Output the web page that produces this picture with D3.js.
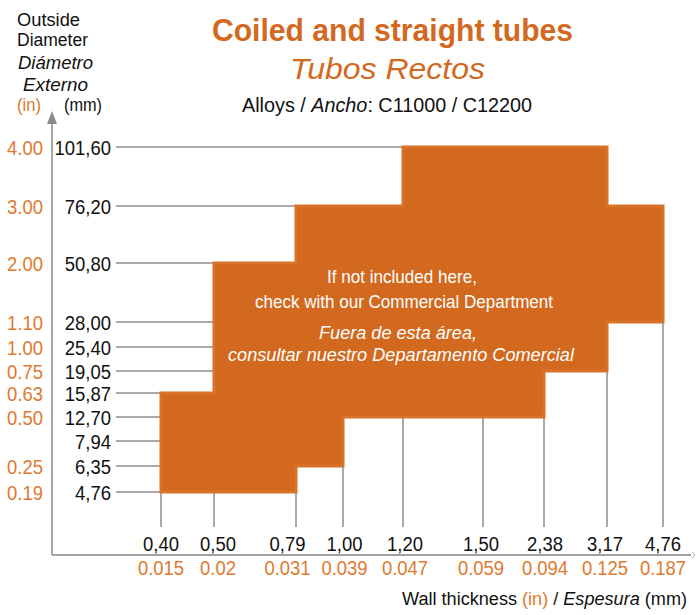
<!DOCTYPE html>
<html>
<head>
<meta charset="utf-8">
<script src="https://cdn.jsdelivr.net/npm/d3@7"></script>
<style>
  html, body { margin: 0; padding: 0; background: #fff; }
  svg { display: block; font-family: "Liberation Sans", Arial, sans-serif; }
</style>
</head>
<body>
<div id="chart"></div>
<script>
// outside diameter categories (bottom to top)
const yLabelsMm = ['4,76', '6,35', '7,94', '12,70', '15,87', '19,05', '25,40', '28,00', '50,80', '76,20', '101,60'];
const yLabelsIn = ['0.19', '0.25', '', '0.50', '0.63', '0.75', '1.00', '1.10', '2.00', '3.00', '4.00'];

// wall thickness categories
const xLabelsMm = ['0,40', '0,50', '0,79', '1,00', '1,20', '1,50', '2,38', '3,17', '4,76'];
const xLabelsIn = ['0.015', '0.02', '0.031', '0.039', '0.047', '0.059', '0.094', '0.125', '0.187'];

// available range between consecutive wall thickness ticks
const colTop    = ['15,87', '50,80', '76,20', '76,20', '101,60', '101,60', '101,60', '76,20'];
const colBottom = ['4,76',  '4,76',  '6,35',  '12,70', '12,70',  '12,70',  '19,05',  '28,00'];

const width = 696;
const height = 615;
const orange = '#d2691e';
const orangeText = '#e07a30';

// uneven spacing in the original, so ordinal scales with fixed pixel stops
const y = d3.scaleOrdinal()
  .domain(yLabelsMm)
  .range([492, 466, 441, 417, 393, 371, 347, 322, 263, 206, 147]);

const x = d3.scaleOrdinal()
  .domain(xLabelsMm)
  .range([161, 214, 296, 343, 403, 483, 544, 607, 663]);

// the tick labels are not quite centred on their ticks
const xText = d3.scaleOrdinal()
  .domain(xLabelsMm)
  .range([161, 218, 287.5, 344.5, 405, 481, 545, 605, 663]);

const svg = d3.select('#chart').append('svg')
  .attr('width', width)
  .attr('height', height)
  .attr('viewBox', [0, 0, width, height]);

const columns = colTop.map((t, i) => ({
  x0: xLabelsMm[i], x1: xLabelsMm[i + 1], top: t, bottom: colBottom[i]
}));

// gridlines run from the labels to the left edge of the shape
svg.append('g')
  .selectAll('line')
  .data(yLabelsMm)
  .join('line')
  .attr('x1', 116)
  .attr('x2', d => {
    const idx = yLabelsMm.indexOf(d);
    const col = columns.find(c => yLabelsMm.indexOf(c.bottom) <= idx && idx <= yLabelsMm.indexOf(c.top));
    return x(col.x0);
  })
  .attr('y1', d => y(d))
  .attr('y2', d => y(d))
  .attr('stroke', '#555')
  .attr('stroke-width', 1);

// vertical ticks from the axis up to the shape
svg.append('g')
  .selectAll('line')
  .data(xLabelsMm)
  .join('line')
  .attr('x1', d => x(d))
  .attr('x2', d => x(d))
  .attr('y1', 527)
  .attr('y2', (d, i) => d3.max(columns.filter((c, j) => j === i || j === i - 1), c => y(c.bottom)))
  .attr('stroke', '#555')
  .attr('stroke-width', 1);

// stepped area
const pts = [];
columns.forEach(c => { pts.push([x(c.x0), y(c.top)], [x(c.x1), y(c.top)]); });
columns.slice().reverse().forEach(c => { pts.push([x(c.x1), y(c.bottom)], [x(c.x0), y(c.bottom)]); });

svg.append('path')
  .attr('d', d3.line()(pts) + 'Z')
  .attr('fill', orange)
  .attr('stroke', '#d9722a')
  .attr('stroke-width', 3)
  .attr('stroke-linejoin', 'miter');

// axes
svg.append('line')
  .attr('x1', 52).attr('x2', 52).attr('y1', 555).attr('y2', 120)
  .attr('stroke', '#8a8a8a').attr('stroke-width', 1.5);
svg.append('path')
  .attr('d', 'M52,111 L57,124 L47,124 Z')
  .attr('fill', '#8a8a8a');
svg.append('line')
  .attr('x1', 52).attr('x2', 691).attr('y1', 555).attr('y2', 555)
  .attr('stroke', '#a0a0a0').attr('stroke-width', 2);
svg.append('path')
  .attr('d', 'M692,552 L695,555 L692,558')
  .attr('fill', 'none')
  .attr('stroke', '#b0b0b0')
  .attr('stroke-width', 1);

function label(sel, txt, px, py, opts) {
  const o = Object.assign({ size: 21, sx: 0.88, anchor: 'end', fill: '#111' }, opts);
  return sel.append('text')
    .attr('transform', `translate(${px},${py}) scale(${o.sx},1)`)
    .attr('text-anchor', o.anchor)
    .attr('dy', o.dy || 0)
    .attr('font-size', o.size)
    .attr('fill', o.fill)
    .text(txt);
}

// y labels
const yAxis = svg.append('g');
yLabelsMm.forEach(d => label(yAxis, d, 111, y(d), { dy: '0.36em' }));
yLabelsIn.forEach((d, i) => label(yAxis, d, 43, y(yLabelsMm[i]), { dy: '0.36em', fill: orangeText }));

// x labels
const xAxis = svg.append('g');
xLabelsMm.forEach(d => label(xAxis, d, xText(d), 551, { anchor: 'middle' }));
xLabelsIn.forEach((d, i) => label(xAxis, d, xText(xLabelsMm[i]), 575, { anchor: 'middle', fill: orangeText }));

// texts with measured widths
function txt(content, px, py, size, len, opts) {
  const o = Object.assign({ anchor: 'middle', fill: '#111', weight: 'normal', style: 'normal' }, opts);
  const t = svg.append('text')
    .attr('x', px).attr('y', py)
    .attr('text-anchor', o.anchor)
    .attr('font-size', size)
    .attr('font-weight', o.weight)
    .attr('font-style', o.style)
    .attr('fill', o.fill)
    .attr('textLength', len)
    .attr('lengthAdjust', 'spacingAndGlyphs');
  if (typeof content === 'string') t.text(content);
  else content.forEach(p => t.append('tspan')
    .attr('fill', p.fill || null)
    .attr('font-style', p.style || null)
    .text(p.t));
  return t;
}

// header
txt('Outside', 48.5, 26, 18, 63);
txt('Diameter', 52.5, 46, 18, 71);
txt('Diámetro', 55.5, 69, 18, 75, { style: 'italic' });
txt('Externo', 55.5, 91, 18, 65, { style: 'italic' });
txt('(in)', 17, 111, 18, 24, { anchor: 'start', fill: orangeText });
txt('(mm)', 64, 111, 18, 38, { anchor: 'start' });

txt('Coiled and straight tubes', 392.5, 41, 31, 361, { weight: 'bold', fill: orange });
txt('Tubos Rectos', 387.5, 79, 30, 195, { style: 'italic', fill: orange });
txt([{ t: 'Alloys / ' }, { t: 'Ancho', style: 'italic' }, { t: ': C11000 / C12200' }], 387, 112, 20, 290);

// note inside the area
txt('If not included here,', 402, 283, 19, 150, { fill: '#fff' });
txt('check with our Commercial Department', 404, 308, 19, 298, { fill: '#fff' });
txt('Fuera de esta área,', 398, 339, 19, 158, { fill: '#fff', style: 'italic' });
txt('consultar nuestro Departamento Comercial', 401, 361, 19, 346, { fill: '#fff', style: 'italic' });

// x axis title
txt([{ t: 'Wall thickness ' }, { t: '(in)', fill: orangeText }, { t: '   / ' },
     { t: 'Espesura', style: 'italic' }, { t: ' (mm)' }], 687, 605, 18, 285, { anchor: 'end' });
</script>
</body>
</html>
